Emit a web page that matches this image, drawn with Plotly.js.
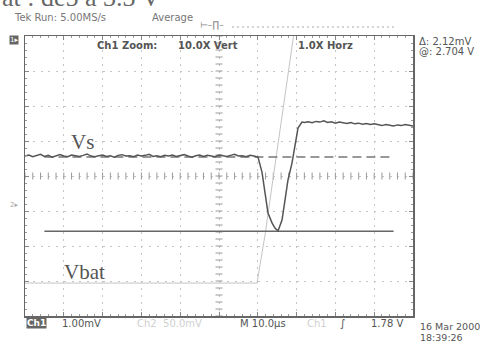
<!DOCTYPE html>
<html><head><meta charset="utf-8">
<script src="https://cdn.plot.ly/plotly-3.0.1.min.js"></script>
<style>html,body{margin:0;padding:0;background:#fff;}#plot{width:497px;height:342px;}</style>
</head><body><div id="plot"></div>
<script>
// Ch1 (Vs) trace, time in µs, amplitude in mV (1 mV/div, 10 µs/div)
const vsTime = [-50,-49,-48,-47,-46,-45,-44,-43,-42,-41,-40,-39,-38,-37,-36,-35,-34,-33,-32,-31,
  -30,-29,-28,-27,-26,-25,-24,-23,-22,-21,-20,-19,-18,-17,-16,-15,-14,-13,-12,-11,
  -10,-9,-8,-7,-6,-5,-4,-3,-2,-1,0,1,2,3,4,5,6,7,8,9,
  10.05,11.08,11.86,12.63,13.66,14.43,15.21,16.24,17.01,17.78,18.81,19.59,20.36,21.39,
  22,23,24,25,26,27,28,29,30,31,32,33,34,35,36,37,38,39,40,41,42,43,44,45,46,47,48,49,50];
const vsValue = [0.57,0.60,0.55,0.58,0.62,0.56,0.59,0.54,0.58,0.61,
  0.57,0.55,0.60,0.58,0.56,0.59,0.63,0.57,0.55,0.58,
  0.60,0.56,0.58,0.54,0.59,0.61,0.57,0.58,0.55,0.60,
  0.57,0.59,0.62,0.56,0.58,0.55,0.59,0.57,0.60,0.56,
  0.58,0.61,0.57,0.54,0.58,0.60,0.56,0.59,0.57,0.55,
  0.60,0.58,0.56,0.59,0.62,0.57,0.58,0.55,0.59,0.57,
  0.54,0.11,-0.49,-1.06,-1.34,-1.49,-1.57,-1.26,-0.69,-0.11,0.37,0.94,1.37,1.54,
  1.53,1.55,1.52,1.56,1.54,1.58,1.53,1.55,1.51,1.54,
  1.52,1.50,1.53,1.49,1.51,1.48,1.50,1.47,1.49,1.46,
  1.44,1.47,1.45,1.43,1.46,1.44,1.47,1.45,1.43];
// Vbat (faint) trace
const vbatTime = [-50,9.79,10.57,11.86,13.14,14.43,15.72,17.01,18.30,19.60];
const vbatValue = [-3.06,-3.06,-2.54,-1.69,-0.69,0.31,1.31,2.31,3.31,4.30];
// cursors (mV), span in µs
const cursorDashed = 0.54;
const cursorSolid = -1.58;
const cursorSpan = [-45,45];
// labels
const headerLabels = ["Tek Run: 5.00MS/s","Average"];
const topLabels = ["Ch1 Zoom:","10.0X Vert","1.0X Horz"];
const readouts = ["\u0394: 2.12mV","@: 2.704 V"];
const bottomLabels = ["1.00mV","Ch2  50.0mV","M 10.0\u00b5s","Ch1","\u222b","1.78 V"];
const dateLabels = ["16 Mar 2000","18:39:26"];

// graticule minor marks on centre cross
const crossY = [], crossX = [];
for (let k=-20;k<=20;k++) crossY.push(k*0.2);
for (let k=-25;k<=25;k++) crossX.push(k*2);

const L=25,R=413,T=36,B=316;
const px = x => (x-L)/(R-L);
const py = y => (B-y)/(B-T);
const sans = 'DejaVu Sans, sans-serif';
const serif = 'Liberation Serif, serif';
function ann(text, x, y, o={}) {
  return Object.assign({text, x:px(x), y:py(y), xref:'paper', yref:'paper', xanchor:'left', yanchor:'middle',
    showarrow:false, font:{family:sans, size:10, color:'#555'}}, o);
}

const traces = [
  {x:Array(crossY.length).fill(0), y:crossY, mode:'markers', marker:{symbol:'line-ew-open', size:5, color:'#999', line:{color:'#999', width:1}}, hoverinfo:'skip'},
  {x:crossX, y:Array(crossX.length).fill(0), mode:'markers', marker:{symbol:'line-ns-open', size:5, color:'#999', line:{color:'#999', width:1}}, hoverinfo:'skip'},
  {x:vbatTime, y:vbatValue, mode:'lines', line:{color:'#c4c4c4', width:1}},
  {x:cursorSpan, y:[cursorSolid,cursorSolid], mode:'lines', line:{color:'#666', width:1.5}},
  {x:cursorSpan, y:[cursorDashed,cursorDashed], mode:'lines', line:{color:'#777', width:1.5, dash:'9px,5px'}},
  {x:vsTime, y:vsValue, mode:'lines', line:{color:'#555', width:1.5}}
];

const annotations = [
  ann("at : de5 \u00e0 3.3 V", 0, -3, {font:{family:serif, size:26, color:'#666'}}),
  ann(headerLabels[0], 12, 17, {font:{family:sans, size:10, color:'#777'}}),
  ann(headerLabels[1], 150, 17, {font:{family:sans, size:10, color:'#777'}}),
  ann(topLabels[0], 95, 45, {font:{family:sans, size:10, color:'#555', weight:'bold'}}),
  ann(topLabels[1], 176, 45, {font:{family:sans, size:10, color:'#555', weight:'bold'}}),
  ann(topLabels[2], 296, 45, {font:{family:sans, size:10, color:'#555', weight:'bold'}}),
  ann(readouts[0], 417, 41, {font:{family:sans, size:10, color:'#555'}}),
  ann(readouts[1], 417, 51, {font:{family:sans, size:10, color:'#555'}}),
  ann("1\u25b8", 9, 40, {font:{family:sans, size:7, color:'#fff'}, bgcolor:'#666', borderpad:0}),
  ann("2\u25b8", 8, 205, {font:{family:sans, size:7, color:'#aaa'}}),
  ann("Ch1", 26, 323, {font:{family:sans, size:9, color:'#fff', weight:'bold'}, bgcolor:'#666', borderpad:0}),
  ann(bottomLabels[0], 60, 323),
  ann(bottomLabels[1], 135, 323, {font:{family:sans, size:10, color:'#cfcfcf'}}),
  ann(bottomLabels[2], 238, 323),
  ann(bottomLabels[3], 305, 323, {font:{family:sans, size:10, color:'#cfcfcf'}}),
  ann(bottomLabels[4], 338, 323, {font:{family:sans, size:11, color:'#555'}}),
  ann(bottomLabels[5], 369, 323),
  ann(dateLabels[0], 418, 326.5, {font:{family:sans, size:9.5, color:'#555'}}),
  ann(dateLabels[1], 418, 337.5, {font:{family:sans, size:9.5, color:'#555'}}),
  ann("Vs", 69, 142, {font:{family:serif, size:21, color:'#555'}}),
  ann("Vbat", 62, 272, {font:{family:serif, size:21, color:'#555'}}),
  ann("\u22a2\u2013\u220f\u2013", 198, 25, {font:{family:sans, size:9, color:'#888'}})
];

const shapes = [
  {type:'line', xref:'paper', yref:'paper', x0:px(232), x1:px(397), y0:py(27), y1:py(27), line:{color:'#aaa', width:1, dash:'2px,3px'}}
];

const layout = {
  width:497, height:342,
  margin:{l:L, r:497-R, t:T, b:342-B, pad:0},
  paper_bgcolor:'#fff', plot_bgcolor:'#fff',
  showlegend:false,
  xaxis:{range:[-50,50], dtick:10, tick0:0, showgrid:true, gridcolor:'#c4c4c4', griddash:'2px,5px', gridwidth:1,
    zeroline:false, showline:true, mirror:'ticks', linecolor:'#666', linewidth:1.5,
    ticks:'inside', ticklen:4, tickcolor:'#888', showticklabels:false,
    minor:{dtick:2, ticks:'inside', ticklen:2, tickcolor:'#999', showgrid:false}},
  yaxis:{range:[-4,4], dtick:1, tick0:0, showgrid:true, gridcolor:'#c4c4c4', griddash:'2px,5.76px', gridwidth:1,
    zeroline:false, showline:true, mirror:'ticks', linecolor:'#666', linewidth:1.5,
    ticks:'inside', ticklen:4, tickcolor:'#888', showticklabels:false,
    minor:{dtick:0.2, ticks:'inside', ticklen:2, tickcolor:'#999', showgrid:false}},
  annotations, shapes
};
Plotly.newPlot('plot', traces, layout, {staticPlot:true, displayModeBar:false});
</script></body></html>
